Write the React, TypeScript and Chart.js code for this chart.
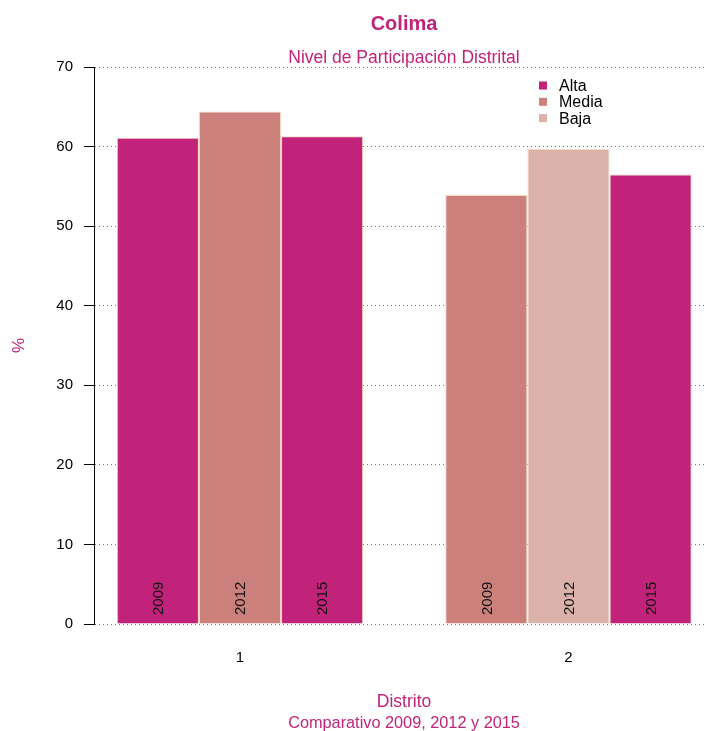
import React, { useEffect, useRef } from "react";
import { Chart, registerables } from "chart.js";

Chart.register(...registerables);

// ---- data ----
const distritos = [1, 2];
const years = ["2009", "2012", "2015"];
const values2009 = [61.1, 53.9];
const values2012 = [64.4, 59.7];
const values2015 = [61.3, 56.5];
const levels2009 = ["Alta", "Media"];
const levels2012 = ["Media", "Baja"];
const levels2015 = ["Alta", "Alta"];
const levelNames = ["Alta", "Media", "Baja"];
const levelColors = ["#C2237A", "#CC807C", "#DAB2AA"];
const yTicks = [0, 10, 20, 30, 40, 50, 60, 70];

const titleText = "Colima";
const subtitleText = "Nivel de Participación Distrital";
const xTitleText = "Distrito";
const xSubtitleText = "Comparativo 2009, 2012 y 2015";
const yTitleText = "%";

const MAGENTA = "#C2237A";
const FONT = '"Liberation Sans", Arial, Helvetica, sans-serif';

const colorFor = (lv: string) => levelColors[levelNames.indexOf(lv)];

const textPlugin = {
  id: "textPlugin",
  afterDatasetsDraw(chart: any) {
    const ctx = chart.ctx;
    const ca = chart.chartArea;
    // year labels inside bars
    ctx.save();
    ctx.fillStyle = "#111";
    ctx.font = `15px ${FONT}`;
    chart.data.datasets.forEach((ds: any, di: number) => {
      const meta = chart.getDatasetMeta(di);
      meta.data.forEach((bar: any) => {
        ctx.save();
        ctx.translate(bar.x, ca.bottom - 9);
        ctx.rotate(-Math.PI / 2);
        ctx.textAlign = "left";
        ctx.textBaseline = "middle";
        ctx.fillText(ds.label, 0, 1);
        ctx.restore();
      });
    });
    ctx.restore();
  },
  afterDraw(chart: any) {
    const ctx = chart.ctx;
    const ca = chart.chartArea;
    const cx = (ca.left + ca.right) / 2 + 4;
    ctx.save();
    ctx.fillStyle = MAGENTA;
    ctx.textAlign = "center";
    ctx.textBaseline = "alphabetic";
    ctx.font = `bold 20px ${FONT}`;
    ctx.fillText(titleText, cx, 30);
    ctx.font = `17.5px ${FONT}`;
    ctx.fillText(subtitleText, cx, 63);
    ctx.font = `17.5px ${FONT}`;
    ctx.fillText(xTitleText, cx, 707);
    ctx.font = `16.3px ${FONT}`;
    ctx.fillText(xSubtitleText, cx, 728);

    // legend
    ctx.textAlign = "left";
    ctx.font = `16px ${FONT}`;
    levelNames.forEach((name, i) => {
      const yc = 85.5 + i * 16.3;
      ctx.fillStyle = levelColors[i];
      ctx.fillRect(539, yc - 4, 8, 8);
      ctx.fillStyle = "#000";
      ctx.textBaseline = "middle";
      ctx.fillText(name, 559, yc + 1);
    });
    ctx.restore();
  },
};

export default function App() {
  const ref = useRef<HTMLCanvasElement | null>(null);

  useEffect(() => {
    document.body.style.margin = "0";
    const canvas = ref.current!;
    const mk = (label: string, vals: number[], lv: string[]) => ({
      label,
      data: distritos.map((d, i) => ({ x: d, y: vals[i] })),
      backgroundColor: lv.map(colorFor),
      borderColor: "#F6D8BC",
      borderWidth: 1,
      categoryPercentage: 0.75,
      barPercentage: 1,
    });
    const chart = new Chart(canvas, {
      type: "bar",
      data: {
        datasets: [
          mk(years[0], values2009, levels2009),
          mk(years[1], values2012, levels2012),
          mk(years[2], values2015, levels2015),
        ],
      },
      options: {
        animation: false,
        responsive: false,
        devicePixelRatio: 1,
        layout: { padding: { top: 67, right: 0, bottom: 0, left: 0 } },
        plugins: {
          legend: { display: false },
          title: { display: false },
          tooltip: { enabled: false },
        },
        scales: {
          x: {
            type: "linear",
            min: 0.5556,
            max: 2.4186,
            offset: false,
            grid: { display: false, drawTicks: false },
            border: { display: false },
            afterBuildTicks: (s: any) => {
              s.ticks = distritos.map((v) => ({ value: v }));
            },
            afterFit: (s: any) => {
              s.height = 731 - 624;
            },
            ticks: {
              color: "#000",
              font: { family: FONT, size: 15 },
              padding: 25,
              maxRotation: 0,
              callback: (v: any) => String(v),
            },
          },
          y: {
            min: 0,
            max: 70,
            afterBuildTicks: (s: any) => {
              s.ticks = yTicks.map((v) => ({ value: v }));
            },
            afterFit: (s: any) => {
              s.width = 94;
            },
            ticks: {
              color: "#000",
              font: { family: FONT, size: 15 },
              padding: 11,
            },
            grid: {
              color: "#777",
              lineWidth: 1,
              tickColor: "#000",
              tickLength: 10,
              tickWidth: 1,
              tickBorderDash: [],
            },
            border: { display: true, color: "#000", width: 1, dash: [1, 3] },
            title: {
              display: true,
              text: yTitleText,
              color: MAGENTA,
              font: { family: FONT, size: 17 },
              padding: { top: 9, bottom: 0 },
            },
          },
        },
      } as any,
      plugins: [textPlugin],
    });
    return () => chart.destroy();
  }, []);

  return (
    <div style={{ width: 706, height: 731 }}>
      <canvas ref={ref} width={706} height={731} style={{ display: "block" }} />
    </div>
  );
}
